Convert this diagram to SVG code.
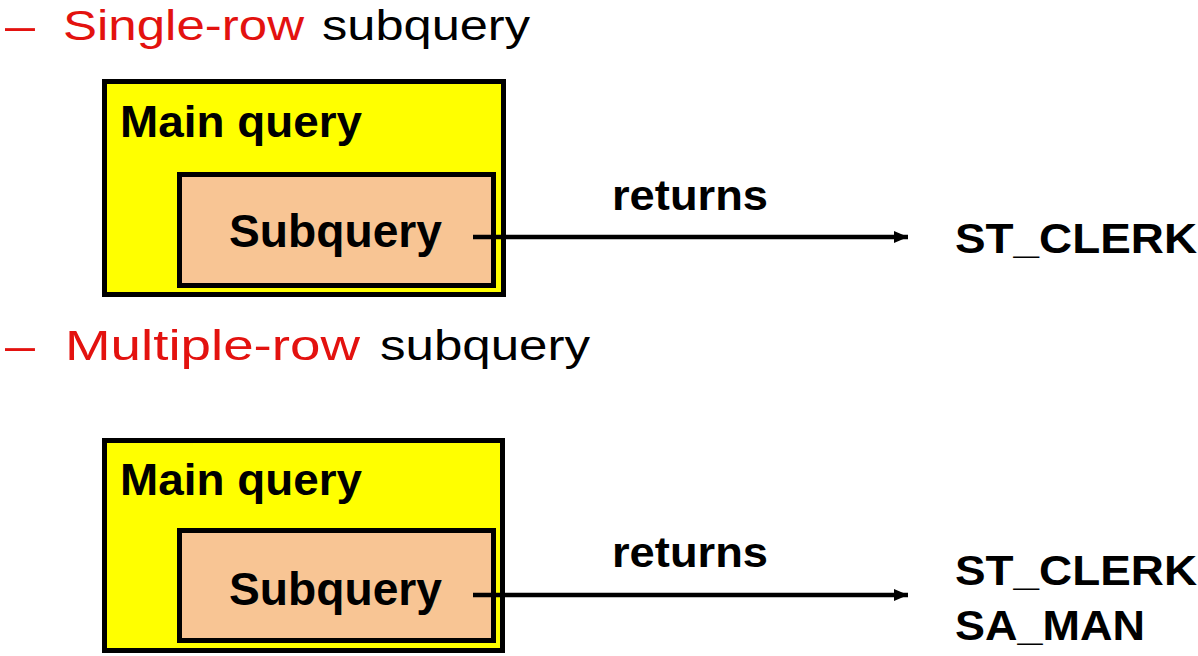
<svg xmlns="http://www.w3.org/2000/svg" width="1198" height="656" viewBox="0 0 1198 656">
<defs>
<marker id="ah" markerUnits="userSpaceOnUse" markerWidth="16" markerHeight="14" refX="14" refY="7" orient="auto">
<path d="M0,1 L14,7 L0,13 Z" fill="#000"/>
</marker>
<style>
.head{font-family:"Liberation Sans",Arial,sans-serif;font-size:43px}
.red{fill:#E3120F}
.blk{fill:#000}
.outer{fill:#FFFF00;stroke:#000;stroke-width:5}
.inner{fill:#F8C594;stroke:#000;stroke-width:5}
.lbl{font-family:"Liberation Sans",Arial,sans-serif;font-weight:bold;fill:#000}
.conn{stroke:#000;stroke-width:4.5;fill:none;marker-end:url(#ah)}
</style>
</defs>
<rect width="1198" height="656" fill="#fff"/>
<g id="heading1">
<text class="head red" x="5" y="40" textLength="30" lengthAdjust="spacingAndGlyphs">–</text>
<text class="head red" x="63" y="40" textLength="241" lengthAdjust="spacingAndGlyphs">Single-row</text>
<text class="head blk" x="322" y="40" textLength="208" lengthAdjust="spacingAndGlyphs">subquery</text>
</g>
<g id="main1">
<rect class="outer" x="104.5" y="81.5" width="399" height="213"/>
<text class="lbl" x="120" y="137" font-size="45" textLength="242" lengthAdjust="spacingAndGlyphs">Main query</text>
</g>
<g id="sub1">
<rect class="inner" x="179.5" y="174.5" width="314" height="111"/>
<text class="lbl" x="229" y="247" font-size="46" textLength="213" lengthAdjust="spacingAndGlyphs">Subquery</text>
</g>
<g id="result1">
<text class="lbl" x="955" y="253" font-size="43" textLength="242" lengthAdjust="spacingAndGlyphs">ST_CLERK</text>
</g>
<g id="heading2">
<text class="head red" x="5" y="360" textLength="30" lengthAdjust="spacingAndGlyphs">–</text>
<text class="head red" x="65" y="360" textLength="295" lengthAdjust="spacingAndGlyphs">Multiple-row</text>
<text class="head blk" x="380" y="360" textLength="210" lengthAdjust="spacingAndGlyphs">subquery</text>
</g>
<g id="main2">
<rect class="outer" x="104.5" y="440.5" width="398" height="210"/>
<text class="lbl" x="120" y="495" font-size="45" textLength="242" lengthAdjust="spacingAndGlyphs">Main query</text>
</g>
<g id="sub2">
<rect class="inner" x="179.5" y="530.5" width="314" height="110"/>
<text class="lbl" x="229" y="605" font-size="46" textLength="213" lengthAdjust="spacingAndGlyphs">Subquery</text>
</g>
<g id="result2">
<text class="lbl" x="955" y="585" font-size="43" textLength="242" lengthAdjust="spacingAndGlyphs">ST_CLERK</text>
<text class="lbl" x="955" y="640" font-size="43" textLength="190" lengthAdjust="spacingAndGlyphs">SA_MAN</text>
</g>
<g id="connectors">
<path class="conn" d="M473,237 L908,237"/>
<text class="lbl" x="612" y="210" font-size="43" textLength="156" lengthAdjust="spacingAndGlyphs">returns</text>
<path class="conn" d="M473,595 L908,595"/>
<text class="lbl" x="612" y="567" font-size="43" textLength="156" lengthAdjust="spacingAndGlyphs">returns</text>
</g>
</svg>
